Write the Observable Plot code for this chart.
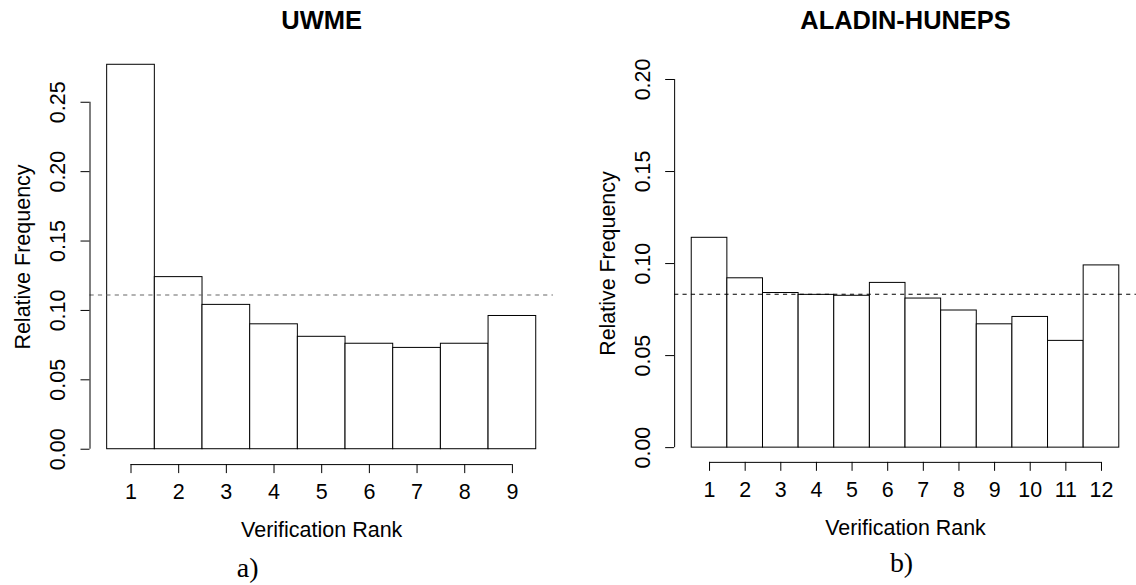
<!DOCTYPE html>
<html>
<head>
<meta charset="utf-8">
<script src="https://cdn.jsdelivr.net/npm/d3@7"></script>
<script src="https://cdn.jsdelivr.net/npm/@observablehq/plot@0.6"></script>
<style>
  html, body { margin: 0; padding: 0; background: #fff; overflow: hidden; }
  #wrap { position: relative; width: 1136px; height: 585px; overflow: hidden; background: #fff; }
  #wrap > div { position: absolute; top: 0; }
</style>
</head>
<body>
<div id="wrap"><div id="left"></div><div id="right"></div></div>
<script>
// ---- data ----
const titleUWME = "UWME";
const ranksUWME = [1, 2, 3, 4, 5, 6, 7, 8, 9];
const freqUWME = [0.277, 0.124, 0.104, 0.090, 0.081, 0.076, 0.073, 0.076, 0.096];
const yTicksUWME = [0.00, 0.05, 0.10, 0.15, 0.20, 0.25];

const titleALADIN = "ALADIN-HUNEPS";
const ranksALADIN = [1, 2, 3, 4, 5, 6, 7, 8, 9, 10, 11, 12];
const freqALADIN = [0.114, 0.092, 0.084, 0.083, 0.0825, 0.0895, 0.081, 0.0745, 0.067, 0.071, 0.058, 0.099];
const yTicksALADIN = [0.00, 0.05, 0.10, 0.15, 0.20];
const yLimALADIN = [0, 0.20];

const xLabel = "Verification Rank";
const yLabel = "Relative Frequency";

const sans = "'Liberation Sans', Arial, Helvetica, sans-serif";
const serif = "'Liberation Serif', 'DejaVu Serif', serif";

function panel({title, ranks, freq, yTicks, yLim, caption, width, margins, titleBaseline, capDx, capDy, dashColor}) {
  const n = ranks.length;
  const rows = ranks.map((r, i) => ({rank: r, freq: freq[i]}));
  const lim = yLim || [0, d3.max(freq)];
  const ext = (lim[1] - lim[0]) * 0.04;
  const yDomain = [lim[0] - ext, lim[1] + ext];
  const xDomain = [0 - n * 0.04, n + n * 0.04];
  const centers = ranks.map(r => r - 0.5);
  const H = 585;
  return Plot.plot({
    width, height: H,
    marginLeft: margins[0], marginRight: margins[1], marginTop: margins[2], marginBottom: margins[3],
    style: {fontFamily: sans, fontSize: "21.5px", background: "white", color: "black", overflow: "visible"},
    x: {type: "linear", domain: xDomain},
    y: {domain: yDomain},
    marks: [
      Plot.rectY(rows, {x1: d => d.rank - 1, x2: d => d.rank, y1: d => 0, y2: d => d.freq,
        fill: "white", stroke: "black", strokeWidth: 1}),
      Plot.ruleY([1 / n], {stroke: dashColor, strokeWidth: 1.2, strokeDasharray: "4.2,4.2"}),
      // y axis (R style)
      Plot.axisY({ticks: yTicks, tickSize: 9, tickFormat: () => "", label: null, stroke: "black"}),
      Plot.ruleX([xDomain[0]], {y1: d => yTicks[0], y2: d => yTicks[yTicks.length - 1], stroke: "black"}),
      Plot.text(yTicks, {y: d => d, frameAnchor: "left", text: d => d.toFixed(2), rotate: -90,
        dx: -32, textAnchor: "middle", lineAnchor: "middle", fontSize: 21.5, fill: "black"}),
      // x axis (R style)
      Plot.axisX({ticks: centers, tickSize: 9, tickFormat: () => "", label: null, stroke: "black"}),
      Plot.ruleY([yDomain[0]], {x1: d => centers[0], x2: d => centers[n - 1], stroke: "black"}),
      Plot.text(ranks, {x: r => r - 0.5, frameAnchor: "bottom", text: r => String(r),
        dy: 28, lineAnchor: "middle", fontSize: 21.5, fill: "black"}),
      // labels
      Plot.text([yLabel], {frameAnchor: "left", text: d => d, rotate: -90, dx: -67,
        textAnchor: "middle", lineAnchor: "middle", fontSize: 21.5, fill: "black"}),
      Plot.text([xLabel], {frameAnchor: "bottom", text: d => d, dy: 66,
        lineAnchor: "middle", fontSize: 21.5, fill: "black"}),
      Plot.text([title], {frameAnchor: "top", text: d => d, dy: titleBaseline - margins[2],
        lineAnchor: "bottom", fontSize: 25.5, fontWeight: "bold", fill: "black"}),
      Plot.text([caption], {frameAnchor: "bottom", text: d => d, dx: capDx, dy: capDy,
        lineAnchor: "bottom", fontSize: 28, fontFamily: serif, fill: "black"})
    ]
  });
}

const left = panel({
  title: titleUWME, ranks: ranksUWME, freq: freqUWME, yTicks: yTicksUWME, yLim: null,
  caption: "a)", width: 568, margins: [89.5, 15.1, 48.9, 120.9], titleBaseline: 28.5,
  capDx: -74, capDy: 112, dashColor: "#666"
});
const right = panel({
  title: titleALADIN, ranks: ranksALADIN, freq: freqALADIN, yTicks: yTicksALADIN, yLim: yLimALADIN,
  caption: "b)", width: 570, margins: [106.5, 0.1, 64.5, 121.5], titleBaseline: 28.5,
  capDx: -4, capDy: 110, dashColor: "#000"
});
const L = document.getElementById("left");
L.style.left = "0px";
L.appendChild(left);
const R = document.getElementById("right");
R.style.left = "568px";
R.appendChild(right);
</script>
</body>
</html>
